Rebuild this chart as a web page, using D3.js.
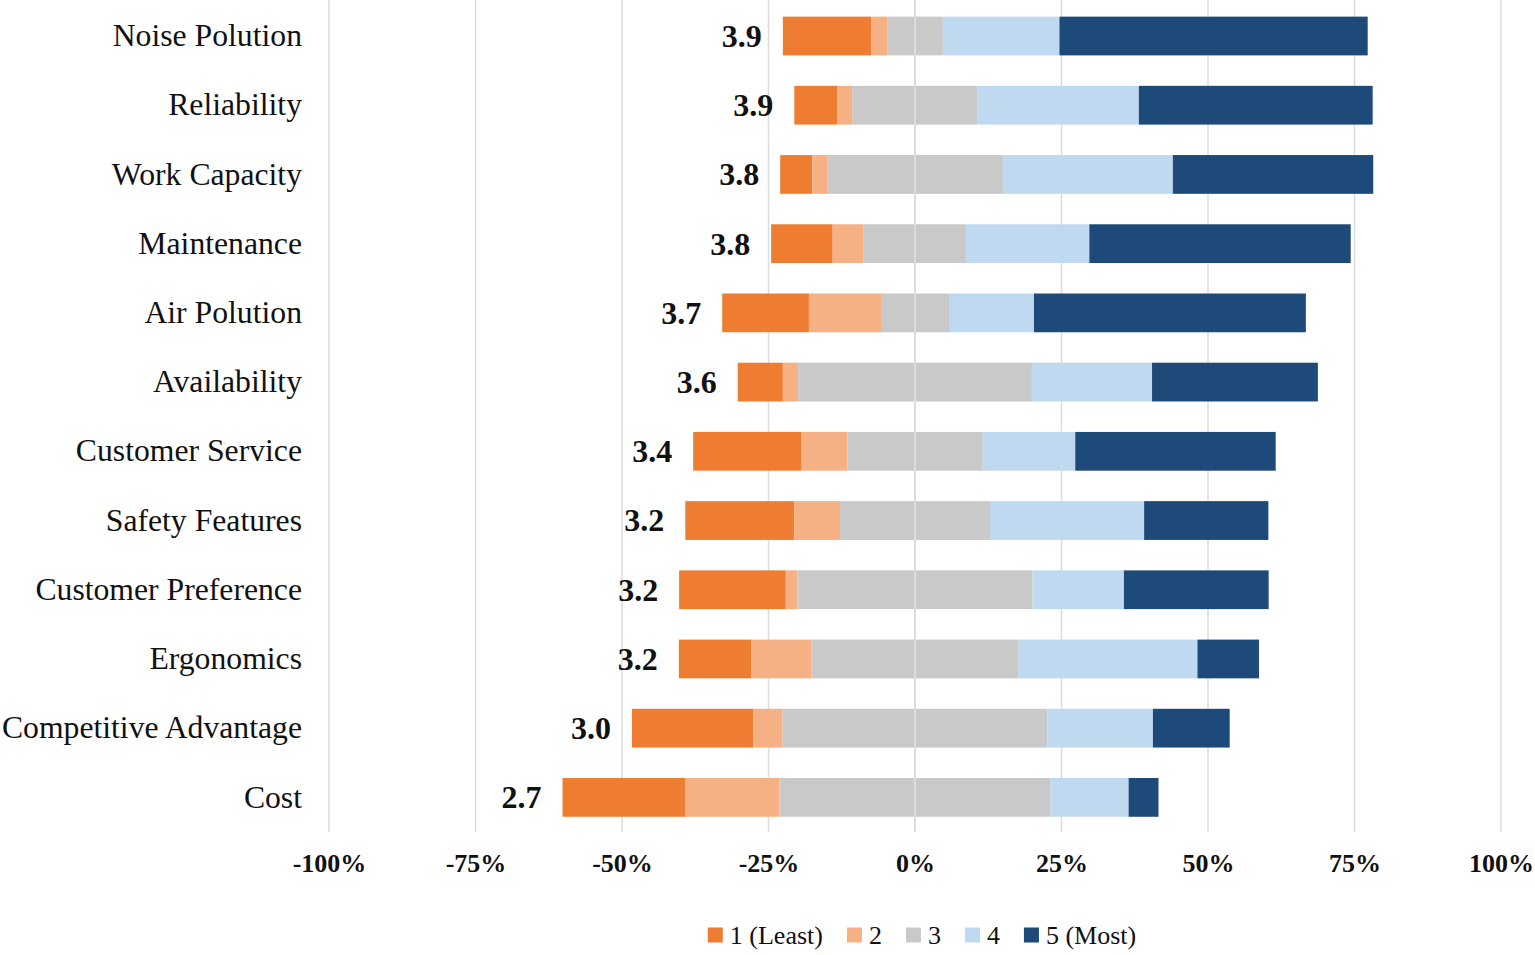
<!DOCTYPE html>
<html>
<head>
<meta charset="utf-8">
<script src="https://cdn.jsdelivr.net/npm/d3@7/dist/d3.min.js"></script>
<style>
  html, body { margin: 0; padding: 0; background: #fff; }
  svg { display: block; font-family: "Liberation Serif", "Times New Roman", serif; }
</style>
</head>
<body>
<svg id="chart" width="1535" height="955"></svg>
<script>
// categories top to bottom
var categories = ["Noise Polution", "Reliability", "Work Capacity", "Maintenance", "Air Polution",
  "Availability", "Customer Service", "Safety Features", "Customer Preference", "Ergonomics",
  "Competitive Advantage", "Cost"];

// share of answers per level (%)
var least = [15.1, 7.3, 5.5, 10.5, 14.8, 7.7, 18.5, 18.6, 18.2, 12.4, 20.7, 20.9];
var two   = [2.7, 2.6, 2.5, 5.3, 12.3, 2.6, 7.8, 7.8, 2.0, 10.2, 5.0, 16.1];
var three = [9.5, 21.4, 30.0, 17.5, 11.6, 39.9, 23.1, 25.6, 40.1, 35.4, 45.2, 46.3];
var four  = [19.9, 27.5, 29.0, 21.0, 14.5, 20.5, 15.8, 26.3, 15.6, 30.5, 18.0, 13.3];
var most  = [52.6, 39.9, 34.2, 44.6, 46.4, 28.3, 34.2, 21.2, 24.7, 10.5, 13.1, 5.1];

// mean score shown left of each bar
var means = ["3.9", "3.9", "3.8", "3.8", "3.7", "3.6", "3.4", "3.2", "3.2", "3.2", "3.0", "2.7"];

var levelNames = ["1 (Least)", "2", "3", "4", "5 (Most)"];
var tickValues = [-100, -75, -50, -25, 0, 25, 50, 75, 100];

var colors = ["#EE7D31", "#F5B183", "#C9C9C9", "#BFD9F1", "#1D4A78"];

var svg = d3.select("#chart");
var plotTop = 1.4, plotBottom = 832;

var x = d3.scaleLinear().domain([-100, 100]).range([329, 1501]);
var y = d3.scaleBand().domain(categories).range([plotTop, plotBottom])
  .paddingInner(0.44).paddingOuter(0.22);

// build the diverging segments, neutral answer split around 0
var levels = [least, two, three, four, most];
var segs = [];
categories.forEach(function(c, i) {
  var x0 = -(least[i] + two[i] + three[i] / 2);
  levels.forEach(function(arr, k) {
    segs.push({ cat: c, k: k, x0: x0, x1: x0 + arr[i] });
    x0 += arr[i];
  });
});

// vertical gridlines
svg.append("g").selectAll("line")
  .data(tickValues.filter(function(d) { return d !== 0; }))
  .enter().append("line")
  .attr("x1", function(d) { return x(d); })
  .attr("x2", function(d) { return x(d); })
  .attr("y1", 0).attr("y2", plotBottom)
  .attr("stroke", "#DCDCDC").attr("stroke-width", 1.5);

// bars
svg.append("g").selectAll("rect")
  .data(segs)
  .enter().append("rect")
  .attr("x", function(d) { return x(d.x0); })
  .attr("width", function(d) { return x(d.x1) - x(d.x0); })
  .attr("y", function(d) { return y(d.cat); })
  .attr("height", y.bandwidth())
  .attr("fill", function(d) { return colors[d.k]; });

// zero line sits on top of the bars
svg.append("line")
  .attr("x1", x(0)).attr("x2", x(0))
  .attr("y1", 0).attr("y2", plotBottom)
  .attr("stroke", "#DCDCDC").attr("stroke-width", 2);

// mean labels
svg.append("g").selectAll("text")
  .data(categories)
  .enter().append("text")
  .attr("x", function(d, i) { return x(-(least[i] + two[i] + three[i] / 2)) - 21; })
  .attr("y", function(d) { return y(d) + y.bandwidth() / 2; })
  .attr("dy", "0.34em")
  .attr("text-anchor", "end")
  .attr("font-size", 32)
  .attr("font-weight", "bold")
  .attr("fill", "#111")
  .text(function(d, i) { return means[i]; });

// category axis
var yAxis = svg.append("g")
  .attr("transform", "translate(" + x(-100) + ",0)")
  .call(d3.axisLeft(y).tickSize(0).tickPadding(27));
yAxis.select(".domain").remove();
yAxis.selectAll("text")
  .attr("font-size", 31.7)
  .attr("font-family", "'Liberation Serif', 'Times New Roman', serif")
  .attr("fill", "#111");

// percent axis
var xAxis = svg.append("g")
  .attr("transform", "translate(0," + plotBottom + ")")
  .call(d3.axisBottom(x).tickValues(tickValues).tickSize(0).tickPadding(22)
    .tickFormat(function(d) { return d + "%"; }));
xAxis.select(".domain").remove();
xAxis.selectAll("text")
  .attr("font-size", 26)
  .attr("font-weight", "bold")
  .attr("font-family", "'Liberation Serif', 'Times New Roman', serif")
  .attr("fill", "#111");

// legend, laid out from measured text widths then centred
var legend = svg.append("g");
var items = legend.selectAll("g")
  .data(levelNames)
  .enter().append("g");
items.append("rect")
  .attr("width", 15).attr("height", 15)
  .attr("y", -7.5)
  .attr("fill", function(d, i) { return colors[i]; });
items.append("text")
  .attr("x", 22)
  .attr("dy", "0.33em")
  .attr("font-size", 26)
  .attr("fill", "#111")
  .text(function(d) { return d; });

var pos = 0;
items.each(function() {
  var w = d3.select(this).select("text").node().getComputedTextLength();
  d3.select(this).attr("transform", "translate(" + pos + ",0)");
  pos += 22 + w + 24;
});
var legendW = pos - 24;
legend.attr("transform", "translate(" + (922 - legendW / 2) + ",935)");
</script>
</body>
</html>
